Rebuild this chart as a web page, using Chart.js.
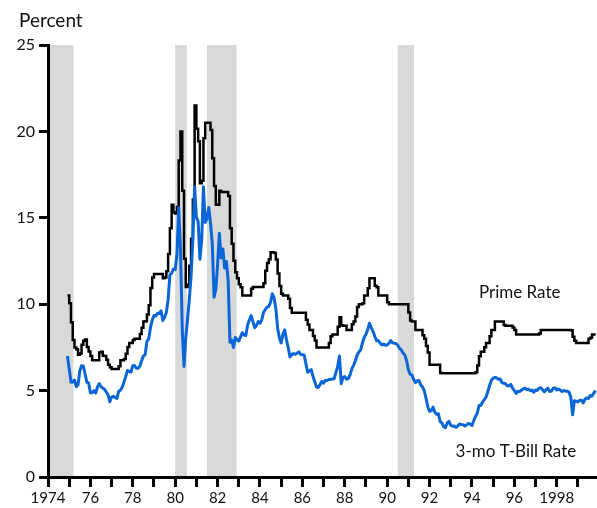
<!DOCTYPE html>
<html><head><meta charset="utf-8">
<script src="https://cdn.jsdelivr.net/npm/chart.js@4.4.1/dist/chart.umd.min.js"></script>
<style>html,body{margin:0;padding:0;background:#fff;}#wrap{width:597px;height:508px;position:relative;}</style>
</head><body><div id="wrap"><canvas id="c" width="597" height="508"></canvas></div>
<script>
// Monthly series, first value = December 1974
const seriesStartYear = 1974;
const seriesStartMonth = 12;

const primeRate = [
  10.5,
  10.05, 8.96, 7.93, 7.5, 7.4, 7.07, 7.15, 7.66, 7.88, 7.96, 7.53, 7.26,       // 1975
  7.0, 6.75, 6.75, 6.75, 6.75, 7.2, 7.25, 7.01, 7.0, 6.78, 6.5, 6.35,           // 1976
  6.25, 6.25, 6.25, 6.25, 6.41, 6.75, 6.75, 6.83, 7.13, 7.52, 7.75, 7.75,       // 1977
  7.93, 8.0, 8.0, 8.0, 8.27, 8.63, 9.0, 9.01, 9.41, 9.94, 10.94, 11.55,         // 1978
  11.75, 11.75, 11.75, 11.75, 11.75, 11.5, 11.54, 11.91, 12.9, 14.39, 15.75, 15.3, // 1979
  15.25, 15.63, 18.31, 20.0, 16.57, 12.63, 11.0, 11.12, 12.23, 13.79, 16.06, 21.5, // 1980
  20.16, 19.43, 17.0, 17.15, 19.61, 20.5, 20.5, 20.5, 20.08, 18.45, 16.84, 15.75,  // 1981
  15.75, 16.56, 16.5, 16.5, 16.5, 16.5, 16.26, 14.39, 13.5, 12.52, 11.85, 11.5,    // 1982
  11.16, 10.98, 10.5, 10.5, 10.5, 10.5, 10.5, 10.89, 11.0, 11.0, 11.0, 11.0,       // 1983
  11.0, 11.0, 11.21, 11.93, 12.39, 12.6, 13.0, 13.0, 12.97, 12.58, 11.77, 11.06,   // 1984
  10.61, 10.5, 10.5, 10.5, 10.31, 9.78, 9.5, 9.5, 9.5, 9.5, 9.5, 9.5,              // 1985
  9.5, 9.5, 9.1, 8.83, 8.5, 8.5, 8.16, 7.9, 7.5, 7.5, 7.5, 7.5,                    // 1986
  7.5, 7.5, 7.5, 7.75, 8.14, 8.25, 8.25, 8.25, 8.7, 9.25, 8.78, 8.75,              // 1987
  8.75, 8.51, 8.5, 8.5, 8.84, 9.0, 9.29, 9.84, 10.0, 10.0, 10.05, 10.5,            // 1988
  10.5, 10.93, 11.5, 11.5, 11.5, 11.07, 10.98, 10.5, 10.5, 10.5, 10.5, 10.5,       // 1989
  10.11, 10.0, 10.0, 10.0, 10.0, 10.0, 10.0, 10.0, 10.0, 10.0, 10.0, 10.0,         // 1990
  9.52, 9.05, 9.0, 9.0, 8.5, 8.5, 8.5, 8.5, 8.2, 8.0, 7.58, 7.21,                  // 1991
  6.5, 6.5, 6.5, 6.5, 6.5, 6.5, 6.02, 6.0, 6.0, 6.0, 6.0, 6.0,                     // 1992
  6.0, 6.0, 6.0, 6.0, 6.0, 6.0, 6.0, 6.0, 6.0, 6.0, 6.0, 6.0,                      // 1993
  6.0, 6.0, 6.06, 6.45, 6.99, 7.25, 7.25, 7.51, 7.75, 7.75, 8.15, 8.5,             // 1994
  8.5, 9.0, 9.0, 9.0, 9.0, 9.0, 8.8, 8.75, 8.75, 8.75, 8.75, 8.65,                 // 1995
  8.5, 8.25, 8.25, 8.25, 8.25, 8.25, 8.25, 8.25, 8.25, 8.25, 8.25, 8.25,           // 1996
  8.25, 8.25, 8.3, 8.5, 8.5, 8.5, 8.5, 8.5, 8.5, 8.5, 8.5, 8.5,                    // 1997
  8.5, 8.5, 8.5, 8.5, 8.5, 8.5, 8.5, 8.5, 8.49, 8.12, 7.89, 7.75,                  // 1998
  7.75, 7.75, 7.75, 7.75, 7.75, 7.75, 8.0, 8.06, 8.25, 8.25, 8.25                  // 1999
];

const tBillRate = [
  7.0,
  6.26, 5.5, 5.49, 5.61, 5.23, 5.34, 6.13, 6.44, 6.42, 5.96, 5.48, 5.44,        // 1975
  4.87, 4.88, 5.0, 4.86, 5.2, 5.41, 5.23, 5.14, 5.08, 4.92, 4.75, 4.35,         // 1976
  4.62, 4.67, 4.6, 4.54, 4.96, 5.02, 5.19, 5.49, 5.81, 6.16, 6.1, 6.07,         // 1977
  6.44, 6.45, 6.29, 6.29, 6.41, 6.73, 7.01, 7.08, 7.85, 7.99, 8.64, 9.08,       // 1978
  9.35, 9.32, 9.48, 9.46, 9.61, 9.06, 9.24, 9.52, 10.26, 11.7, 11.79, 12.04,    // 1979
  12.0, 12.86, 15.6, 13.2, 8.58, 6.4, 8.06, 9.13, 10.27, 11.62, 13.73, 16.8,    // 1980
  15.02, 14.79, 12.6, 13.69, 16.8, 14.73, 14.95, 15.6, 14.7, 13.54, 10.4, 10.85, // 1981
  12.28, 14.1, 12.68, 13.2, 12.09, 12.47, 11.35, 7.8, 7.92, 7.5, 8.07, 7.94,    // 1982
  7.86, 8.11, 8.35, 8.21, 8.19, 8.79, 9.08, 9.34, 9.0, 8.64, 8.76, 9.0,         // 1983
  8.9, 9.09, 9.52, 9.69, 9.83, 9.87, 10.12, 10.6, 10.37, 9.74, 8.61, 8.06,      // 1984
  7.76, 8.27, 8.52, 7.95, 7.48, 6.95, 7.08, 7.14, 7.1, 7.16, 7.24, 7.1,         // 1985
  7.07, 7.06, 6.56, 6.06, 6.15, 6.21, 5.83, 5.53, 5.21, 5.18, 5.35, 5.53,       // 1986
  5.43, 5.59, 5.59, 5.64, 5.66, 5.67, 5.69, 6.04, 6.4, 7.0, 5.4, 5.77,          // 1987
  5.81, 5.66, 5.7, 5.91, 6.26, 6.46, 6.73, 7.06, 7.24, 7.35, 7.76, 8.07,        // 1988
  8.27, 8.53, 8.9, 8.65, 8.43, 8.15, 7.88, 7.9, 7.75, 7.64, 7.69, 7.63,         // 1989
  7.64, 7.74, 7.9, 7.77, 7.74, 7.73, 7.62, 7.45, 7.36, 7.17, 7.06, 6.74,        // 1990
  6.22, 5.94, 5.91, 5.65, 5.46, 5.57, 5.58, 5.33, 5.22, 4.99, 4.56, 4.07,       // 1991
  3.8, 3.84, 4.04, 3.75, 3.63, 3.66, 3.21, 3.13, 2.91, 2.86, 3.13, 3.22,        // 1992
  3.0, 2.93, 2.95, 2.87, 2.96, 3.07, 3.04, 3.02, 2.95, 3.02, 3.1, 3.06,         // 1993
  2.98, 3.25, 3.5, 3.68, 4.14, 4.14, 4.33, 4.48, 4.62, 4.95, 5.29, 5.6,         // 1994
  5.71, 5.77, 5.73, 5.65, 5.67, 5.47, 5.42, 5.4, 5.28, 5.28, 5.36, 5.14,        // 1995
  5.0, 4.83, 4.96, 4.95, 5.02, 5.09, 5.15, 5.05, 5.09, 4.99, 5.03, 4.91,        // 1996
  5.03, 5.01, 5.14, 5.16, 5.05, 4.93, 5.05, 5.14, 4.95, 4.97, 5.14, 5.16,       // 1997
  5.04, 5.09, 5.03, 4.95, 5.0, 4.98, 4.96, 4.9, 4.61, 3.6, 4.41, 4.39,          // 1998
  4.34, 4.44, 4.44, 4.29, 4.5, 4.57, 4.55, 4.72, 4.68, 4.86, 5.0                // 1999
];

// recession periods (start, end) in fractional years
const recessionStarts = [1973.9, 1980.0, 1981.5, 1990.5];
const recessionEnds   = [1975.2, 1980.55, 1982.9, 1991.27];

const xTickYears = [1974,1975,1976,1977,1978,1979,1980,1981,1982,1983,1984,1985,1986,
                    1987,1988,1989,1990,1991,1992,1993,1994,1995,1996,1997,1998,1999];
const yTickValues = [0, 5, 10, 15, 20, 25];

const seriesNames = ['Prime Rate', '3-mo T-Bill Rate'];
const axisTitle = 'Percent';

function toPoints(arr) {
  return arr.map((v, i) => ({ x: seriesStartYear + (seriesStartMonth - 1 + i) / 12, y: v }));
}

const FONT = 'Lato, "Open Sans", sans-serif';

const bandsPlugin = {
  id: 'bands',
  beforeDraw(chart) {
    const { ctx, chartArea, scales } = chart;
    const xs = scales.x;
    ctx.save();
    ctx.fillStyle = '#d9d9d9';
    for (let i = 0; i < recessionStarts.length; i++) {
      const x0 = Math.max(chartArea.left, xs.getPixelForValue(recessionStarts[i]));
      const x1 = Math.min(chartArea.right, xs.getPixelForValue(recessionEnds[i]));
      ctx.fillRect(x0, chartArea.top, x1 - x0, chartArea.bottom - chartArea.top);
    }
    ctx.restore();
  }
};

const labelsPlugin = {
  id: 'seriesLabels',
  afterDraw(chart) {
    const { ctx, scales } = chart;
    ctx.save();
    ctx.fillStyle = '#111';
    ctx.textBaseline = 'middle';
    ctx.textAlign = 'left';
    ctx.font = '17px ' + FONT;
    ctx.fillText(seriesNames[0], scales.x.getPixelForValue(1994.33), scales.y.getPixelForValue(10.65));
    ctx.fillText(seriesNames[1], scales.x.getPixelForValue(1993.23), scales.y.getPixelForValue(1.5));
    ctx.font = '19px ' + FONT;
    ctx.textBaseline = 'alphabetic';
    ctx.fillText(axisTitle, 19, 27);
    ctx.restore();
  }
};

new Chart(document.getElementById('c'), {
  type: 'line',
  data: {
    datasets: [
      { label: seriesNames[1], data: toPoints(tBillRate), borderColor: '#0a66d6', borderWidth: 3,
        pointRadius: 0, tension: 0, fill: false, borderJoinStyle: 'round' },
      { label: seriesNames[0], data: toPoints(primeRate), borderColor: '#000', borderWidth: 2.5,
        pointRadius: 0, stepped: 'before', fill: false }
    ]
  },
  options: {
    responsive: false,
    animation: false,
    layout: { padding: { top: 45, right: 0, left: 0, bottom: 0 } },
    plugins: { legend: { display: false }, tooltip: { enabled: false } },
    scales: {
      x: {
        type: 'linear', min: 1974, max: 1999.9,
        afterBuildTicks(scale) { scale.ticks = xTickYears.map(v => ({ value: v })); },
        afterFit(scale) { scale.height = 31; },
        grid: { drawOnChartArea: false, drawTicks: true, tickLength: 10, color: '#000', lineWidth: 3 },
        border: { display: true, color: '#000', width: 3 },
        ticks: {
          autoSkip: false, maxRotation: 0, padding: 2, color: '#111',
          font: { family: FONT, size: 15 },
          callback(v) {
            if (v % 2 !== 0) return '';
            return (v === 1974 || v === 1998) ? String(v) : String(v).slice(2);
          }
        }
      },
      y: {
        min: 0, max: 25,
        afterBuildTicks(scale) { scale.ticks = yTickValues.map(v => ({ value: v })); },
        afterFit(scale) { scale.width = 48; },
        grid: { drawOnChartArea: false, drawTicks: true, tickLength: 9, color: '#000', lineWidth: 3 },
        border: { display: true, color: '#000', width: 3 },
        ticks: { padding: 4, color: '#111', font: { family: FONT, size: 16 } }
      }
    }
  },
  plugins: [bandsPlugin, labelsPlugin]
});
</script>
</body></html>
